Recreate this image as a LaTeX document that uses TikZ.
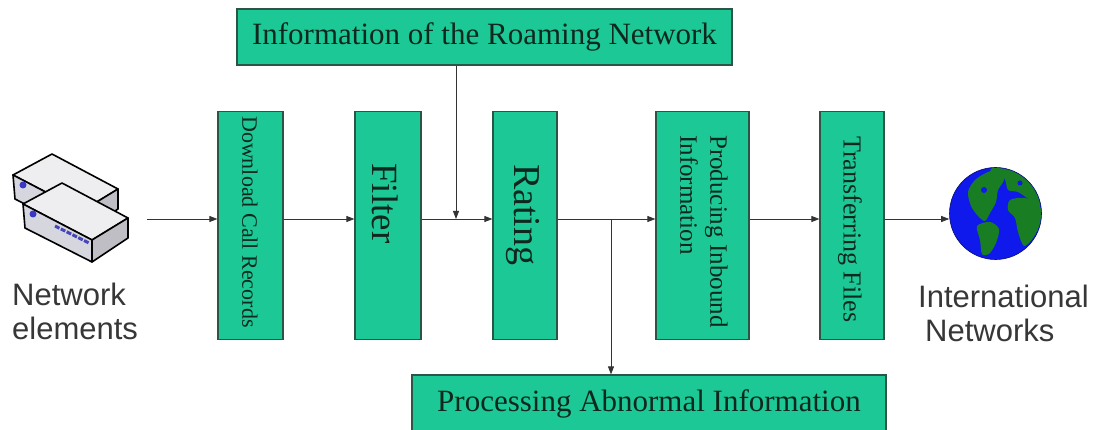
\documentclass[tikz,border=0pt]{standalone}
\usepackage{fontspec}
\setmainfont{Liberation Serif}
\newfontfamily\labelfont{Liberation Sans}
\usetikzlibrary{arrows.meta,positioning}
\definecolor{boxfill}{RGB}{28,201,150}
\definecolor{boxedge}{RGB}{45,85,70}
\definecolor{boxtext}{RGB}{15,40,30}
\definecolor{sea}{RGB}{15,25,235}
\definecolor{land}{RGB}{25,125,35}
\definecolor{lbl}{RGB}{55,55,55}
\definecolor{srvtop}{RGB}{238,238,240}
\definecolor{srvface}{RGB}{214,214,222}
\definecolor{srvend}{RGB}{190,190,196}

\begin{document}
\begin{tikzpicture}[x=1pt,y=-1pt,
  stage/.style={draw=boxedge,fill=boxfill,line width=1.2pt,minimum height=228pt,inner sep=0pt},
  banner/.style={draw=boxedge,fill=boxfill,line width=1.2pt,inner sep=0pt,text=boxtext,font=\fontsize{31}{34}\selectfont},
  vtext/.style={rotate=-90,anchor=west,inner sep=0pt,text=boxtext,align=left},
  flow/.style={line width=0.8pt,draw=black!80,-{Triangle[length=8pt,width=6pt]}},
  caption/.style={anchor=north west,inner sep=0pt,align=left,text=lbl,font=\labelfont\fontsize{31}{34}\selectfont},
  srv/.style={draw=black,line width=1.6pt,line join=round}]
  \useasboundingbox (0,0) rectangle (1108,430);
  \fill[white] (0,0) rectangle (1108,430);

  % processing stages along the main line
  \node[stage,minimum width=65pt] (dl) at (250.5,225.5) {};
  \node[stage,minimum width=66pt] (flt) at (388,225.5) {};
  \node[stage,minimum width=64pt] (rt) at (525,225.5) {};
  \node[stage,minimum width=93pt] (pib) at (702.5,225.5) {};
  \node[stage,minimum width=64pt] (tf) at (852,225.5) {};
  \node[vtext,font=\fontsize{22}{24}\selectfont] (dl-t) at (250,116) {Download Call Records};
  \node[vtext,font=\fontsize{37}{40}\selectfont] (flt-t) at (385,163) {Filter};
  \node[vtext,font=\fontsize{38}{40}\selectfont] (rt-t) at (523,164) {Rating};
  \node[vtext,font=\fontsize{25}{30}\selectfont] (pib-t) at (704,135) {Producing Inbound\\Information};
  \node[vtext,font=\fontsize{26}{28}\selectfont] (tf-t) at (850,136) {Transferring Files};

  % side inputs and outputs
  \node[banner,minimum width=495pt,minimum height=56pt] (roam) at (484.5,37) {Information of the Roaming Network};
  \node[banner,minimum width=474pt,minimum height=58pt] (abn) at (649,404) {Processing Abnormal Information};

  % network elements
  \foreach \dx/\dy in {-10/-29,0/0} {
    \begin{scope}[shift={(\dx,\dy)}]
      \filldraw[srv,fill=srvtop] (23,204) -- (62,183) -- (128,218) -- (92,240) -- cycle;
      \filldraw[srv,fill=srvface] (23,204) -- (92,240) -- (92,262) -- (25,228) -- cycle;
      \filldraw[srv,fill=srvend] (92,240) -- (128,218) -- (128,238) -- (92,262) -- cycle;
      \fill[blue!55!gray] (33,214) circle (3.5);
      \draw[blue!45!gray,line width=3pt,dash pattern=on 5pt off 1.5pt] (55,226) -- (89,243);
    \end{scope}
  }
  \node[caption] (srvlbl) at (12,283) {Network\\elements};

  % globe
  \node[circle,fill=sea,draw=sea!45!black,line width=0.6pt,minimum size=92pt,inner sep=0pt] (globe) at (995.5,213.5) {};
  \begin{scope}
    \clip (globe.center) circle (45.5);
    \fill[land] plot[smooth cycle] coordinates {(968,192) (975,180) (988,172) (1000,170) (1004,180) (998,190) (996,202) (990,213) (985,221) (978,216) (971,206)};
    \fill[land] plot[smooth cycle] coordinates {(990,170) (1005,165) (1025,168) (1038,180) (1043,195) (1041,205) (1030,200) (1018,192) (1008,190) (1004,178)};
    \fill[land] plot[smooth cycle] coordinates {(1010,200) (1025,198) (1040,205) (1041,222) (1033,238) (1024,246) (1018,232) (1015,218) (1008,210)};
    \fill[land] plot[smooth cycle] coordinates {(977,226) (990,222) (999,229) (996,243) (989,254) (982,254) (980,240)};
    \fill[sea] (984,190) circle (3) (1020,183) circle (2.5);
  \end{scope}
  \node[caption] (netlbl) at (918,285) {International\\\hspace*{7pt}Networks};

  % connectors
  \coordinate (row) at (0,219);
  \coordinate (src) at (147,219);
  \coordinate (join) at (456,219);
  \coordinate (fork) at (611,219);
  \draw[flow] (src) -- (dl.west |- row);
  \draw[flow] (dl.east |- row) -- (flt.west |- row);
  \draw[flow] (flt.east |- row) -- (rt.west |- row);
  \draw[flow] (roam.south -| join) -- (join);
  \draw[flow] (rt.east |- row) -- (pib.west |- row);
  \draw[flow] (fork) -- (fork |- abn.north);
  \draw[flow] (pib.east |- row) -- (tf.west |- row);
  \draw[flow] (tf.east |- row) -- (globe.west |- row);
\end{tikzpicture}
\end{document}
